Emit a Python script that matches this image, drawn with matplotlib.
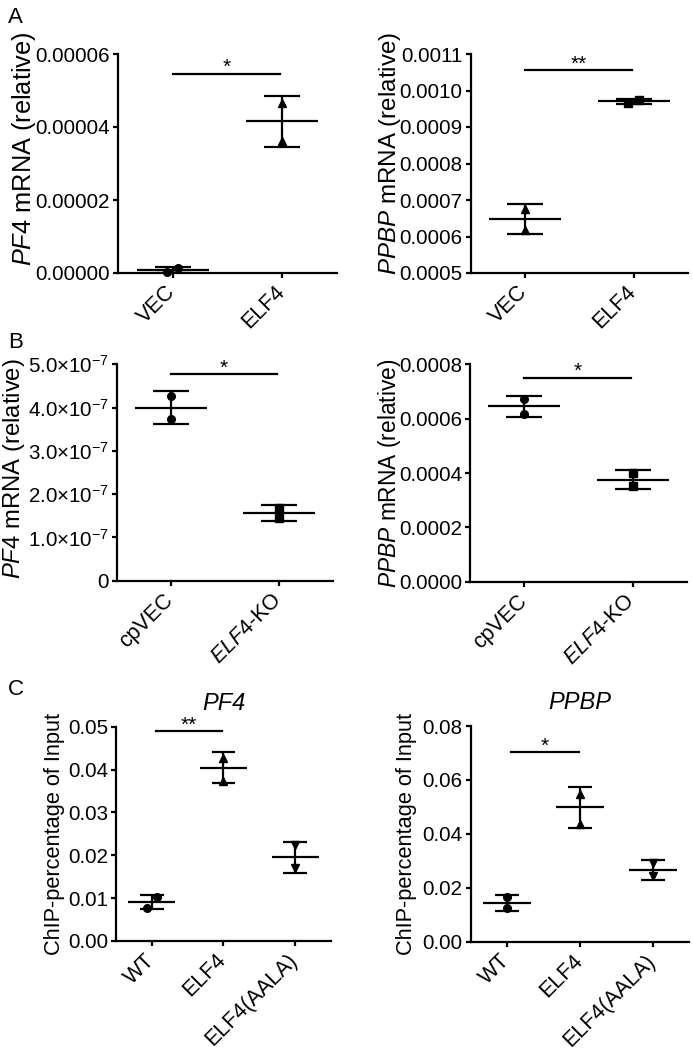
import matplotlib
matplotlib.use('Agg')
import matplotlib.pyplot as plt
import matplotlib.transforms as mtransforms
import numpy as np

plt.rcParams['font.family'] = ['Liberation Sans', 'DejaVu Sans']
plt.rcParams['mathtext.fontset'] = 'custom'
plt.rcParams['mathtext.rm'] = 'Liberation Sans'
plt.rcParams['mathtext.it'] = 'Liberation Sans:italic'
plt.rcParams['mathtext.bf'] = 'Liberation Sans:bold'

# ------------------------- data -------------------------
# Panel A: overexpression
a_groups = ['VEC', 'ELF4']
a_pf4_points = [[0.3e-6, 1.5e-6], [4.66e-5, 3.62e-5]]
a_pf4_mean = [0.9e-6, 4.16e-5]
a_pf4_sd = [0.8e-6, 0.70e-5]
a_pf4_yticks = [0, 2e-5, 4e-5, 6e-5]
a_pf4_yticklabels = ['0.00000', '0.00002', '0.00004', '0.00006']
a_pf4_sig = ('*', 5.46e-5)

a_ppbp_points = [[0.000675, 0.000618], [0.000965, 0.000975]]
a_ppbp_mean = [0.000648, 0.000970]
a_ppbp_sd = [0.000040, 0.000006]
a_ppbp_yticks = [0.0005, 0.0006, 0.0007, 0.0008, 0.0009, 0.0010, 0.0011]
a_ppbp_yticklabels = ['0.0005', '0.0006', '0.0007', '0.0008', '0.0009', '0.0010', '0.0011']
a_ppbp_sig = ('**', 0.001056)

# Panel B: knockout
b_groups = ['cpVEC', r'$\mathit{ELF4}$-KO']
b_pf4_points = [[4.27e-7, 3.73e-7], [1.67e-7, 1.44e-7]]
b_pf4_mean = [4.0e-7, 1.56e-7]
b_pf4_sd = [0.38e-7, 0.19e-7]
b_pf4_yticks = [0, 1e-7, 2e-7, 3e-7, 4e-7, 5e-7]
b_pf4_yticklabels = ['0', r'1.0×10$^{\mathregular{-7}}$', r'2.0×10$^{\mathregular{-7}}$',
                     r'3.0×10$^{\mathregular{-7}}$', r'4.0×10$^{\mathregular{-7}}$',
                     r'5.0×10$^{\mathregular{-7}}$']
b_pf4_sig = ('*', 4.77e-7)

b_ppbp_points = [[0.000671, 0.000616], [0.000399, 0.000352]]
b_ppbp_mean = [0.000645, 0.000376]
b_ppbp_sd = [0.000040, 0.000035]
b_ppbp_yticks = [0, 0.0002, 0.0004, 0.0006, 0.0008]
b_ppbp_yticklabels = ['0.0000', '0.0002', '0.0004', '0.0006', '0.0008']
b_ppbp_sig = ('*', 0.000751)

# Panel C: ChIP
c_groups = ['WT', 'ELF4', 'ELF4(AALA)']
c_pf4_points = [[0.0078, 0.0102], [0.0428, 0.0373], [0.0224, 0.0171]]
c_pf4_mean = [0.0091, 0.0404, 0.0195]
c_pf4_sd = [0.0017, 0.0036, 0.0036]
c_pf4_yticks = [0, 0.01, 0.02, 0.03, 0.04, 0.05]
c_pf4_yticklabels = ['0.00', '0.01', '0.02', '0.03', '0.04', '0.05']
c_pf4_sig = ('**', 0.049)

c_ppbp_points = [[0.0167, 0.0124], [0.0548, 0.0437], [0.0293, 0.0245]]
c_ppbp_mean = [0.0145, 0.0499, 0.0266]
c_ppbp_sd = [0.0030, 0.0076, 0.0038]
c_ppbp_yticks = [0, 0.02, 0.04, 0.06, 0.08]
c_ppbp_yticklabels = ['0.00', '0.02', '0.04', '0.06', '0.08']
c_ppbp_sig = ('*', 0.0704)

# ------------------------- drawing -------------------------
W, H = 693, 1054
fig = plt.figure(figsize=(W / 100, H / 100), dpi=100)

LW = 1.6


def px_rect(x0, x1, ytop, ybot):
    return [x0 / W, 1 - ybot / H, (x1 - x0) / W, (ybot - ytop) / H]


def panel(rect, cats, pts, means, sds, markers, yticks, yticklabels, ylabel,
          sig, sig_span, label_xy, jitter, xlim, title=None, ylabel_size=17):
    ax = fig.add_axes(rect)
    xs = np.arange(len(cats))
    for i, (p, m, s) in enumerate(zip(pts, means, sds)):
        ax.hlines(m, i - 0.33, i + 0.33, color='black', lw=LW, zorder=3)
        ax.vlines(i, m - s, m + s, color='black', lw=LW, zorder=3)
        ax.hlines([m - s, m + s], i - 0.165, i + 0.165, color='black', lw=LW, zorder=3)
        ax.plot(i + np.asarray(jitter[i]), p, linestyle='none', marker=markers[i],
                color='black', markersize=5.5, zorder=4, clip_on=False)
    # significance bar
    text, ysig = sig
    x1, x2 = sig_span
    ax.plot([x1, x2], [ysig, ysig], color='black', lw=LW, clip_on=False)
    ax.annotate(text, xy=((x1 + x2) / 2, ysig), xytext=(0, -2.5),
                textcoords='offset points', ha='center', va='bottom',
                fontsize=15, annotation_clip=False)
    ax.set_xlim(*xlim)
    ax.set_ylim(yticks[0], yticks[-1])
    ax.set_yticks(yticks)
    ax.set_yticklabels(yticklabels)
    ax.set_xticks(xs)
    ax.set_xticklabels(cats, rotation=45, ha='right', va='top', rotation_mode='anchor')
    for side in ('top', 'right'):
        ax.spines[side].set_visible(False)
    for side in ('left', 'bottom'):
        ax.spines[side].set_linewidth(LW)
    ax.tick_params(direction='out', length=3.8, width=LW, pad=2)
    ax.tick_params(axis='y', labelsize=14.8)
    ax.tick_params(axis='x', labelsize=15.5, pad=2.5)
    shift = mtransforms.ScaledTranslation(-8 / 100, 0, fig.dpi_scale_trans)
    for lab in ax.get_xticklabels():
        lab.set_transform(lab.get_transform() + shift)
    ax.set_ylabel(ylabel, fontsize=ylabel_size)
    ax.yaxis.set_label_coords(*label_xy)
    if title:
        ax.set_title(title, fontstyle='italic', fontsize=17, pad=12)
    return ax


two_jit_zero = [[0, 0], [0, 0]]

# Panel A
panel(px_rect(118, 337, 54, 273), a_groups, a_pf4_points, a_pf4_mean, a_pf4_sd,
      ['o', '^'], a_pf4_yticks, a_pf4_yticklabels,
      r'$\mathit{PF4}$ mRNA (relative)', a_pf4_sig, (0.0, 0.98),
      (-0.365, 0.568), [[-0.05, 0.05], [0, 0]], (-0.5, 1.5), ylabel_size=18.3)
panel(px_rect(470.7, 688, 54, 273), a_groups, a_ppbp_points, a_ppbp_mean, a_ppbp_sd,
      ['^', 's'], a_ppbp_yticks, a_ppbp_yticklabels,
      r'$\mathit{PPBP}$ mRNA (relative)', a_ppbp_sig, (0.0, 0.98),
      (-0.31, 0.546), [[0, 0], [-0.055, 0.045]], (-0.5, 1.5), ylabel_size=17.4)

# Panel B
panel(px_rect(117, 333, 364.3, 580.7), b_groups, b_pf4_points, b_pf4_mean, b_pf4_sd,
      ['o', 's'], b_pf4_yticks, b_pf4_yticklabels,
      r'$\mathit{PF4}$ mRNA (relative)', b_pf4_sig, (0.0, 0.98),
      (-0.417, 0.52), two_jit_zero, (-0.5, 1.5), ylabel_size=17.2)
panel(px_rect(470, 687, 364.3, 581.7), b_groups, b_ppbp_points, b_ppbp_mean, b_ppbp_sd,
      ['o', 's'], b_ppbp_yticks, b_ppbp_yticklabels,
      r'$\mathit{PPBP}$ mRNA (relative)', b_ppbp_sig, (0.0, 0.98),
      (-0.31, 0.5), two_jit_zero, (-0.5, 1.5), ylabel_size=16.4)

# Panel C
panel(px_rect(116, 331, 726.7, 941), c_groups, c_pf4_points, c_pf4_mean, c_pf4_sd,
      ['o', '^', 'v'], c_pf4_yticks, c_pf4_yticklabels,
      'ChIP-percentage of Input', c_pf4_sig, (0.06, 0.976),
      (-0.237, 0.5), [[-0.07, 0.07], [0, 0], [0, 0]], (-0.5, 2.5),
      title='PF4', ylabel_size=15.7)
panel(px_rect(470.7, 689, 726, 941.7), c_groups, c_ppbp_points, c_ppbp_mean, c_ppbp_sd,
      ['o', '^', 'v'], c_ppbp_yticks, c_ppbp_yticklabels,
      'ChIP-percentage of Input', c_ppbp_sig, (0.055, 0.99),
      (-0.247, 0.5), [[0, 0], [0, 0], [0, 0]], (-0.5, 2.5),
      title='PPBP', ylabel_size=15.7)

# panel letters
for letter, ytop in (('A', 7), ('B', 332), ('C', 679)):
    fig.text(8 / W, 1 - ytop / H, letter, fontsize=16, ha='left', va='top')

fig.savefig('out.png', dpi=100)
